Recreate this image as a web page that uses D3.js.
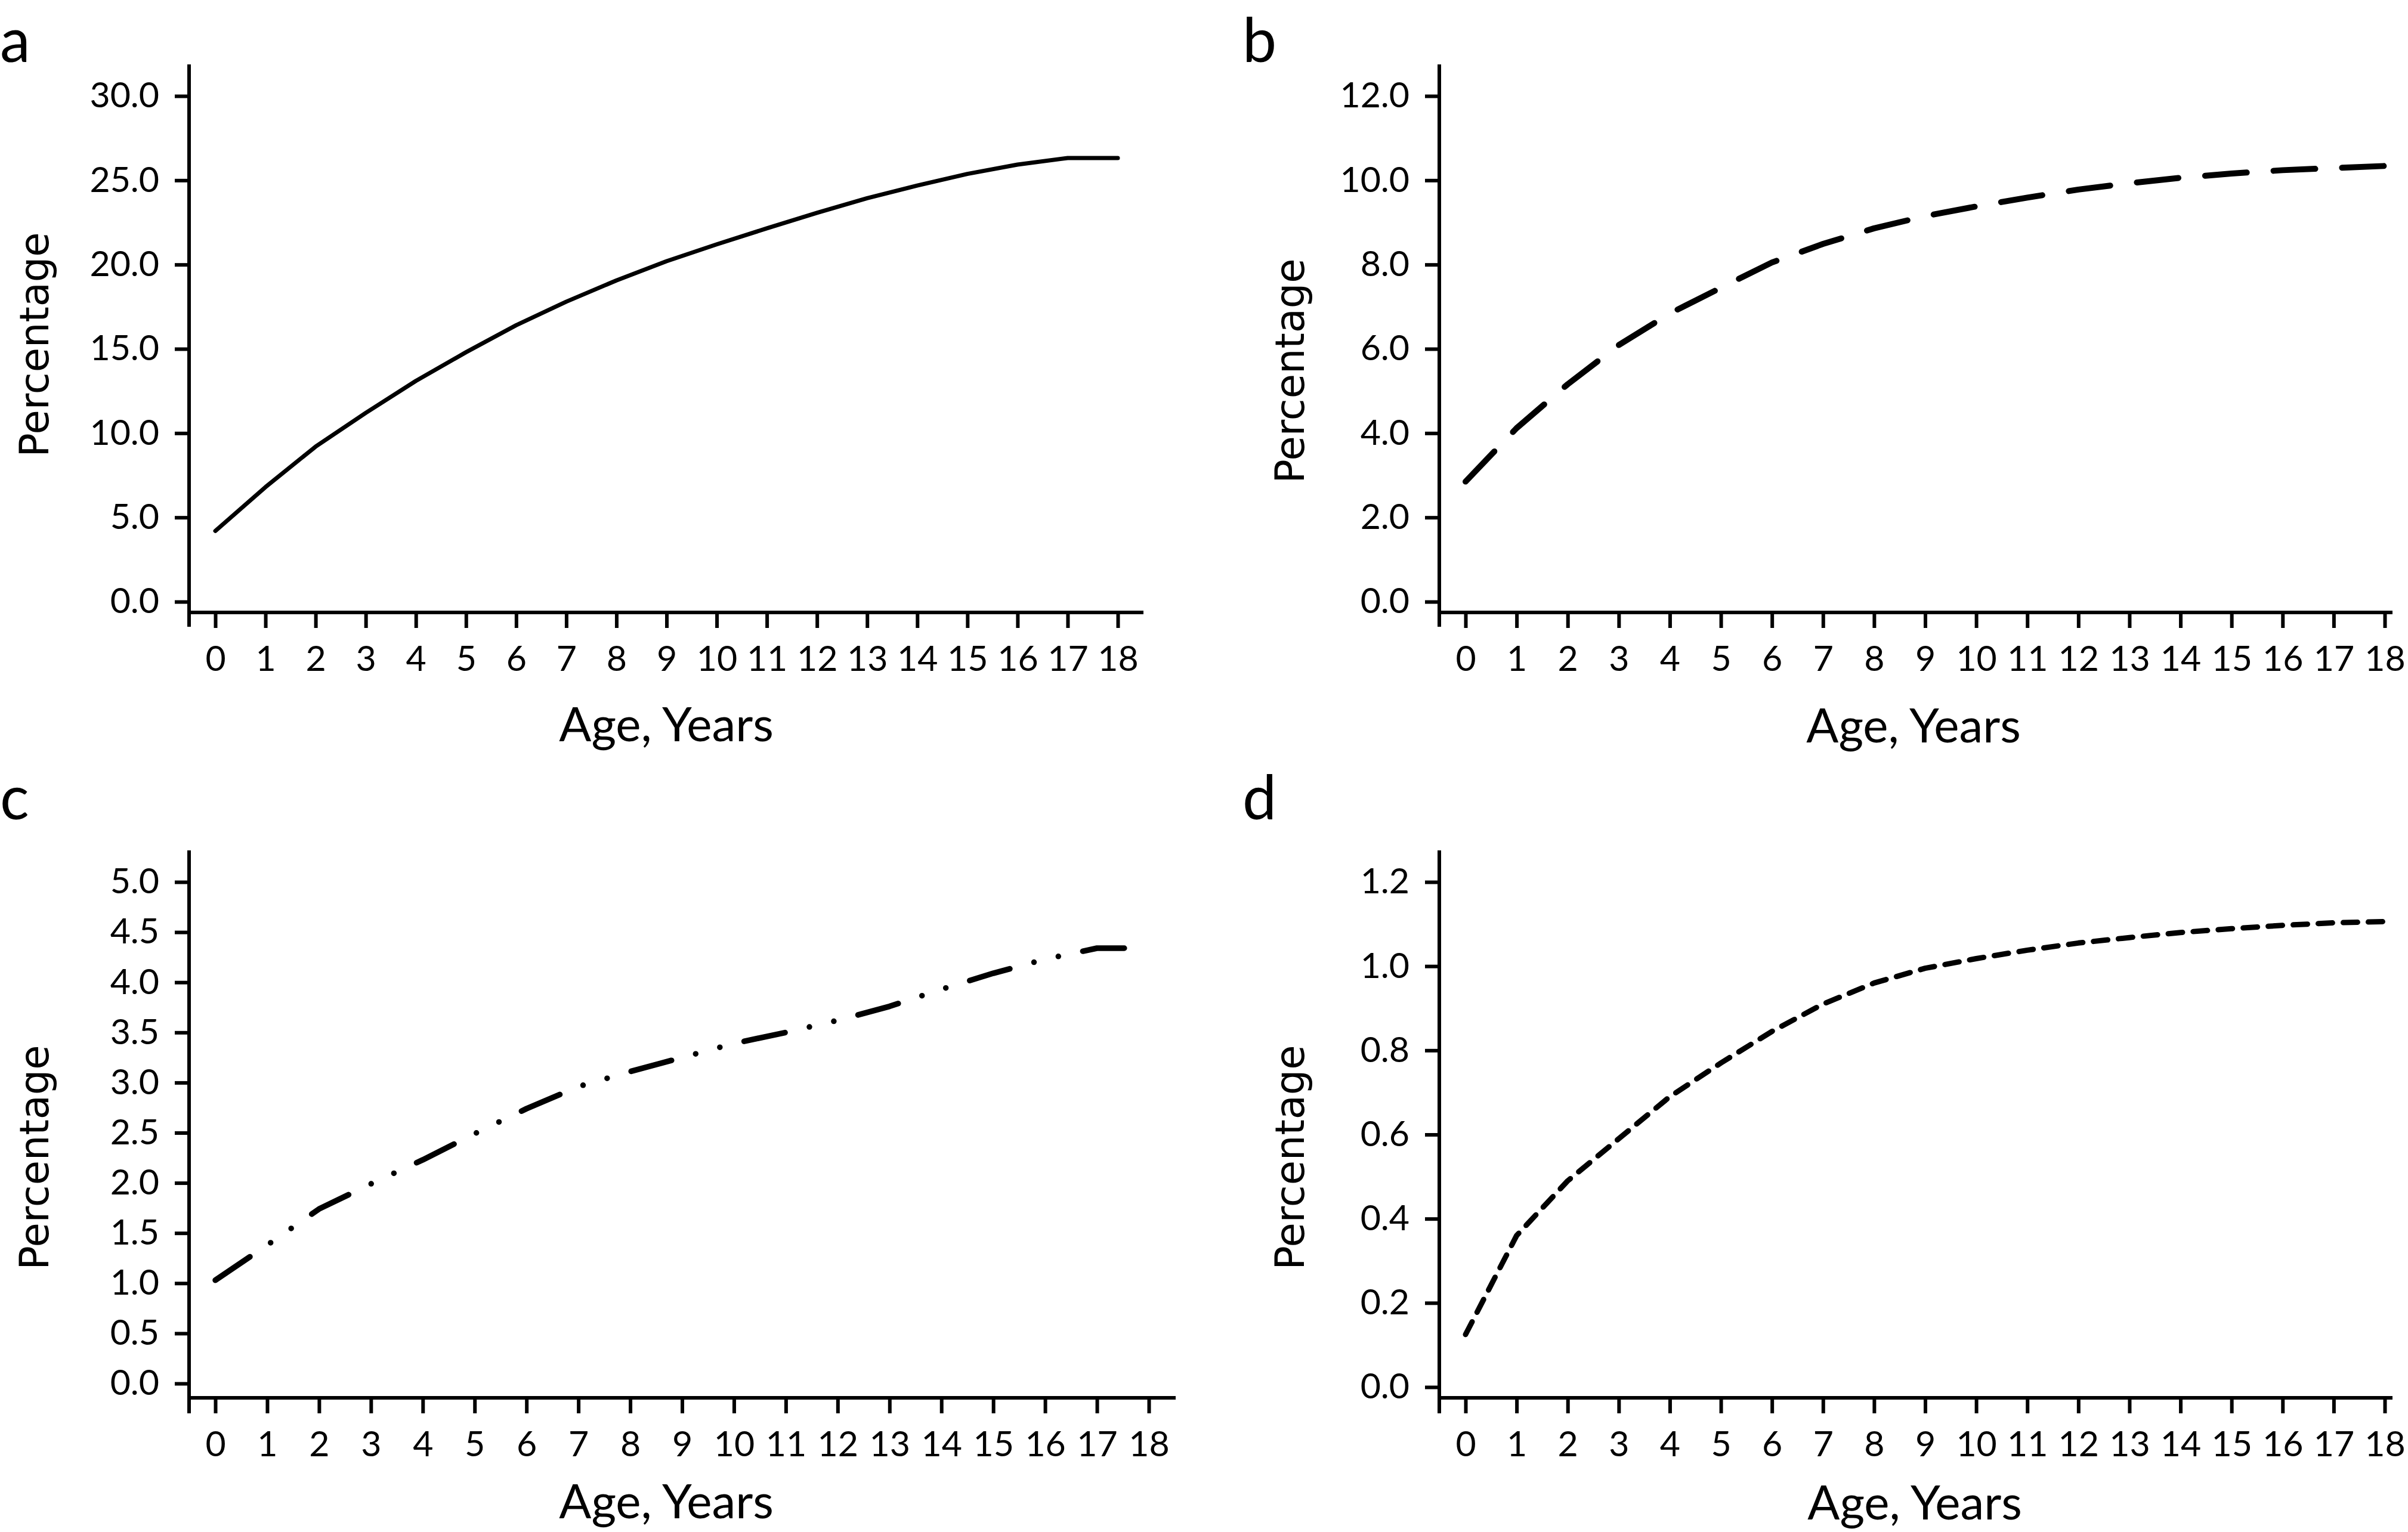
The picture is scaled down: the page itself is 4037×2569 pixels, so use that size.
<!DOCTYPE html>
<html>
<head>
<meta charset="utf-8">
<script src="https://cdn.jsdelivr.net/npm/d3@7"></script>
<style>
html,body{margin:0;padding:0;background:#fff;}
svg{display:block;}
</style>
</head>
<body>
<script>
// ---- data ----
const ages = [0,1,2,3,4,5,6,7,8,9,10,11,12,13,14,15,16,17,18];
const pctA = [4.2, 6.8, 9.2, 11.2, 13.1, 14.8, 16.4, 17.8, 19.06, 20.2, 21.2, 22.15, 23.07, 23.94, 24.69, 25.38, 25.93, 26.32, 26.32];
const pctB = [2.85, 4.12, 5.16, 6.09, 6.84, 7.45, 8.05, 8.49, 8.86, 9.15, 9.38, 9.59, 9.78, 9.93, 10.06, 10.16, 10.24, 10.29, 10.34];
const pctC = [1.03, 1.38, 1.74, 1.99, 2.23, 2.49, 2.74, 2.96, 3.11, 3.25, 3.39, 3.50, 3.62, 3.76, 3.93, 4.09, 4.23, 4.34, 4.34];
const pctD = [0.125, 0.36, 0.49, 0.59, 0.69, 0.77, 0.845, 0.91, 0.96, 0.995, 1.018, 1.038, 1.055, 1.068, 1.08, 1.089, 1.097, 1.103, 1.106];
const yTicksA = [0, 5, 10, 15, 20, 25, 30];
const yTicksB = [0, 2, 4, 6, 8, 10, 12];
const yTicksC = [0, 0.5, 1, 1.5, 2, 2.5, 3, 3.5, 4, 4.5, 5];
const yTicksD = [0, 0.2, 0.4, 0.6, 0.8, 1.0, 1.2];
const panelLetters = ["a", "b", "c", "d"];
const xTitle = "Age, Years";
const yTitle = "Percentage";

// ---- layout ----
const W = 4037, H = 2569;
const svg = d3.select("body").append("svg").attr("width", W).attr("height", H);
svg.append("rect").attr("width", W).attr("height", H).attr("fill", "#fff");

const layouts = [
  {letter:[0,104],    axisX:317,  x0:361,  x18:1874, xEnd:1917, axisY:1027, yTop:108,  yBot:1051, y0:1009, yT:161,  yt:[81,578],    xt:[1117,1243]},
  {letter:[2083,104], axisX:2413, x0:2457, x18:3998, xEnd:4011, axisY:1027, yTop:108,  yBot:1051, y0:1009, yT:161,  yt:[2186,622],  xt:[3208,1245]},
  {letter:[0,1374],   axisX:317,  x0:361,  x18:1926, xEnd:1971, axisY:2344, yTop:1426, yBot:2370, y0:2320, yT:1479, yt:[81,1941],   xt:[1117,2546]},
  {letter:[2083,1374],axisX:2413, x0:2457, x18:3998, xEnd:4011, axisY:2344, yTop:1426, yBot:2370, y0:2326, yT:1479, yt:[2186,1941], xt:[3210,2548]}
];
const series = [
  {values:pctA, ticks:yTicksA, dash:null,               width:7},
  {values:pctB, ticks:yTicksB, dash:"70,45",            width:10},
  {values:pctC, ticks:yTicksC, dash:"70,42,0,42,0,42",  width:9.5},
  {values:pctD, ticks:yTicksD, dash:"24,18",            width:9}
];

const tickFont = "Lato, 'Liberation Sans', sans-serif";

layouts.forEach((L, i) => {
  const s = series[i];
  const g = svg.append("g");
  const x = d3.scaleLinear().domain([ages[0], ages[ages.length-1]]).range([L.x0, L.x18]);
  const y = d3.scaleLinear().domain([0, s.ticks[s.ticks.length-1]]).range([L.y0, L.yT]);

  // y axis
  const ya = g.append("g").attr("transform", `translate(${L.axisX},0)`)
    .call(d3.axisLeft(y).tickValues(s.ticks).tickFormat(d => d.toFixed(1)).tickSize(24).tickPadding(26));
  ya.select(".domain").remove();
  ya.selectAll(".tick line").attr("stroke", "#000").attr("stroke-width", 6);
  ya.attr("font-family", tickFont).attr("font-size", 59);
  ya.selectAll(".tick text").attr("fill", "#000");

  // x axis
  const xa = g.append("g").attr("transform", `translate(0,${L.axisY})`)
    .call(d3.axisBottom(x).tickValues(ages).tickFormat(d3.format("d")).tickSize(26).tickPadding(30));
  xa.select(".domain").remove();
  xa.selectAll(".tick line").attr("stroke", "#000").attr("stroke-width", 6);
  xa.attr("font-family", tickFont).attr("font-size", 59);
  xa.selectAll(".tick text").attr("fill", "#000");

  // axis lines
  g.append("line").attr("x1", L.axisX).attr("x2", L.axisX).attr("y1", L.yTop).attr("y2", L.yBot)
    .attr("stroke", "#000").attr("stroke-width", 6);
  g.append("line").attr("x1", L.axisX).attr("x2", L.xEnd).attr("y1", L.axisY).attr("y2", L.axisY)
    .attr("stroke", "#000").attr("stroke-width", 6);

  // data line
  const line = d3.line().x((d, k) => x(ages[k])).y(d => y(d));
  const p = g.append("path").datum(s.values).attr("d", line)
    .attr("fill", "none").attr("stroke", "#000").attr("stroke-width", s.width)
    .attr("stroke-linecap", "round").attr("stroke-linejoin", "round");
  if (s.dash) p.attr("stroke-dasharray", s.dash);

  // titles
  g.append("text").attr("x", L.xt[0]).attr("y", L.xt[1]).attr("text-anchor", "middle")
    .attr("font-family", tickFont).attr("font-size", 80).attr("fill", "#000").text(xTitle);
  g.append("text").attr("transform", `translate(${L.yt[0]},${L.yt[1]}) rotate(-90)`)
    .attr("text-anchor", "middle").attr("font-family", "'DejaVu Sans', sans-serif")
    .attr("font-size", 67).attr("fill", "#000").text(yTitle);

  // panel letter
  g.append("text").attr("x", L.letter[0]).attr("y", L.letter[1])
    .attr("font-family", tickFont).attr("font-size", 102).attr("fill", "#000").text(panelLetters[i]);
});
</script>
</body>
</html>
